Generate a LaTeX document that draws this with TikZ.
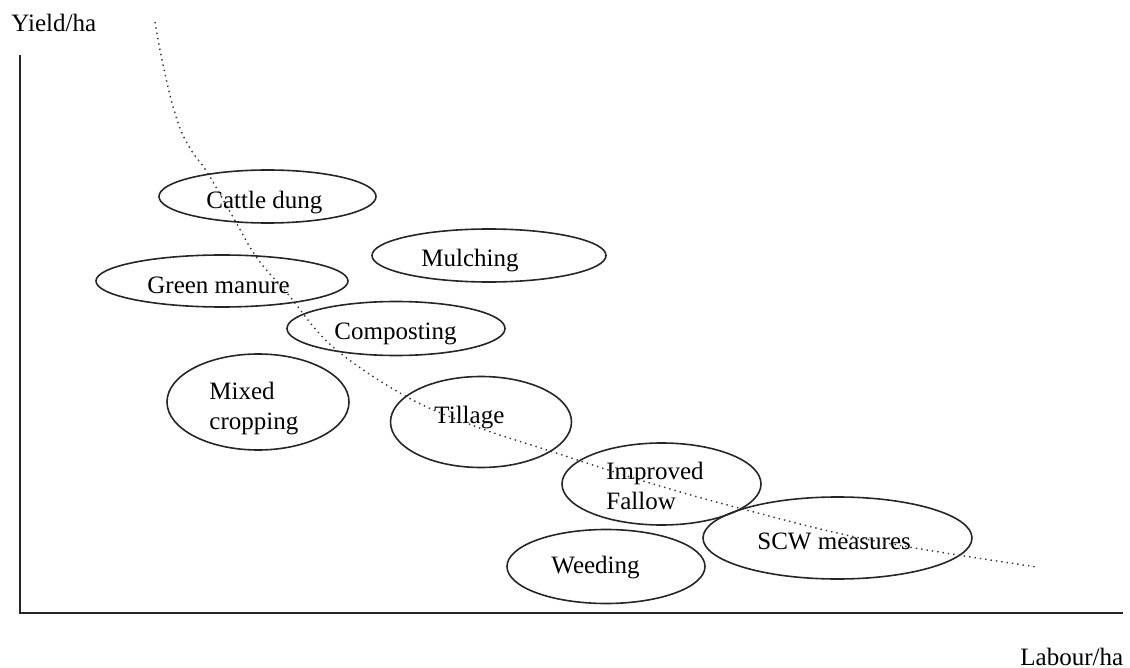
\documentclass[tikz,border=0pt]{standalone}
\usepackage{fontspec}
\setmainfont{Liberation Serif}
\usetikzlibrary{shapes.geometric}
\begin{document}
\begin{tikzpicture}[x=0.5pt,y=-0.5pt,
  oval/.style={draw=black!85,line width=0.8pt,ellipse,inner sep=0pt},
  lbl/.style={font=\fontsize{12.5pt}{15pt}\selectfont,inner sep=0pt,anchor=base west},
  axis/.style={draw=black!85,line width=0.9pt},
  curve/.style={draw=black!80,line width=0.7pt,dotted}]
\useasboundingbox (0,0) rectangle (1130,668);
% axes
\coordinate (ytop) at (20,55);
\coordinate (orig) at (20,613);
\coordinate (xend) at (1123,613);
\draw[axis] (ytop) -- (orig) -- (xend);
\node[lbl] (ylab) at (11,32) {Yield/ha};
\node[lbl] (xlab) at (1020,665) {Labour/ha};
% ellipses
\node[oval,minimum width=108.5pt,minimum height=26.5pt] (cattle) at (267.5,196.5) {};
\node[oval,minimum width=117pt,minimum height=26.5pt] (mulch) at (489,255.5) {};
\node[oval,minimum width=126pt,minimum height=26pt] (green) at (222,281) {};
\node[oval,minimum width=109pt,minimum height=27pt] (compost) at (396,328.5) {};
\node[oval,minimum width=91pt,minimum height=48pt] (mixed) at (258,402) {};
\node[oval,minimum width=90.5pt,minimum height=45.5pt] (tillage) at (481,422) {};
\node[oval,minimum width=99.5pt,minimum height=41pt] (fallow) at (661.5,484) {};
\node[oval,minimum width=99pt,minimum height=37pt] (weeding) at (606,566.5) {};
\node[oval,minimum width=134.5pt,minimum height=41pt] (scw) at (837.5,538) {};
% labels
\node[lbl] (tcattle) at (206,209) {Cattle dung};
\node[lbl] (tmulch) at (421,267) {Mulching};
\node[lbl] (tgreen) at (147,293) {Green manure};
\node[lbl] (tcompost) at (334,340) {Composting};
\node[lbl,align=left,anchor=north west] (tmixed) at (209,382) {Mixed\\cropping};
\node[lbl] (ttillage) at (434,423) {Tillage};
\node[lbl,align=left,anchor=north west] (tfallow) at (606,462) {Improved\\Fallow};
\node[lbl] (tweeding) at (551,573) {Weeding};
\node[lbl] (tscw) at (757,549) {SCW measures};
% dotted trade-off curve
\draw[curve] plot[smooth,tension=0.6] coordinates {(155,22) (160,50) (167,83) (174,110) (182,133) (193,153) (207,172) (233,217) (257,258) (287,293) (333,347) (407,397) (477,427) (547,450) (640,480) (735,507) (870,540) (1037,567)};
\end{tikzpicture}
\end{document}
